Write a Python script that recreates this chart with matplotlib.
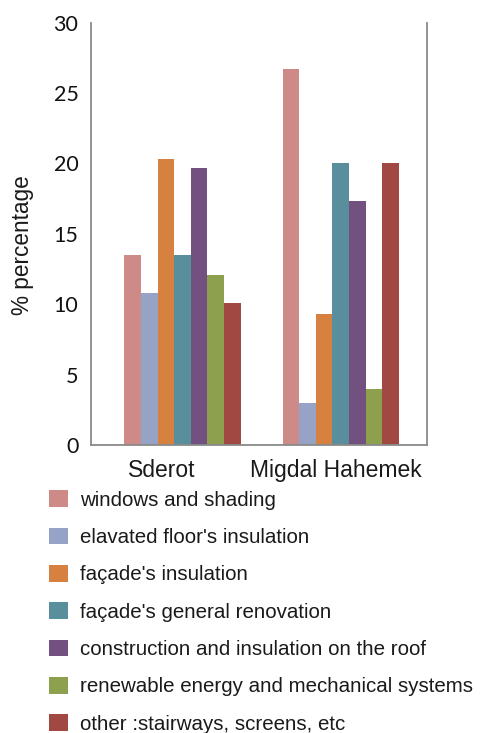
import matplotlib
matplotlib.use('Agg')
import matplotlib.pyplot as plt
from matplotlib.patches import Patch
import numpy as np

plt.rcParams['font.family'] = ['Liberation Sans', 'DejaVu Sans']

towns = ['Sderot', 'Migdal Hahemek']
measures = ['windows and shading',
            "elavated floor's insulation",
            "façade's insulation",
            "façade's general renovation",
            'construction and insulation on the roof',
            'renewable energy and mechanical systems',
            'other :stairways, screens, etc']
sderot = [13.5, 10.8, 20.3, 13.5, 19.7, 12.1, 10.1]
migdal = [26.7, 3.0, 9.3, 20.0, 17.3, 4.0, 20.0]
colors = ['#CE8A86', '#97A3C6', '#D6813F', '#598F9C', '#725180', '#8DA04E', '#A14843']
yticks = [0, 5, 10, 15, 20, 25, 30]

fig = plt.figure(figsize=(4.81, 7.33), dpi=100)
ax = fig.add_axes([0.189, 0.393, 0.699, 0.576])

x = np.arange(len(towns))
w = 0.105
for i, m in enumerate(measures):
    vals = [sderot[i], migdal[i]]
    ax.bar(x + (i - 3) * w, vals, w, color=colors[i], label=m)

ax.set_xlim(-0.579, 1.547)
ax.set_ylim(0, 30)
ax.set_yticks(yticks)
ax.set_yticklabels([str(t) for t in yticks], fontfamily='Lato')
# labels sit a little left of the group centres in the original
ax.set_xticks(x + np.array([-0.13, -0.03]))
ax.set_xticklabels(towns, fontsize=16.5, color='#1a1a1a')
ax.tick_params(axis='y', labelsize=15.5, length=0, pad=9, labelcolor='#111111')
ax.tick_params(axis='x', length=0, pad=10)
ax.set_ylabel('% percentage', fontsize=16.3, color='#1a1a1a')
ax.yaxis.set_label_coords(-0.17, 0.474)
ax.spines['top'].set_visible(False)
for s in ['left', 'right', 'bottom']:
    ax.spines[s].set_color('#8a8a8a')
    ax.spines[s].set_linewidth(1.3)

handles = [Patch(facecolor=c) for c in colors]
fig.legend(handles, measures, loc='upper left', bbox_to_anchor=(0.102, 0.331),
           frameon=False, fontsize=14.8, handlelength=0.92, handleheight=0.87,
           handletextpad=0.58, labelspacing=0.87, borderaxespad=0, borderpad=0,
           labelcolor='#1a1a1a')

fig.savefig('out.png', dpi=100)
